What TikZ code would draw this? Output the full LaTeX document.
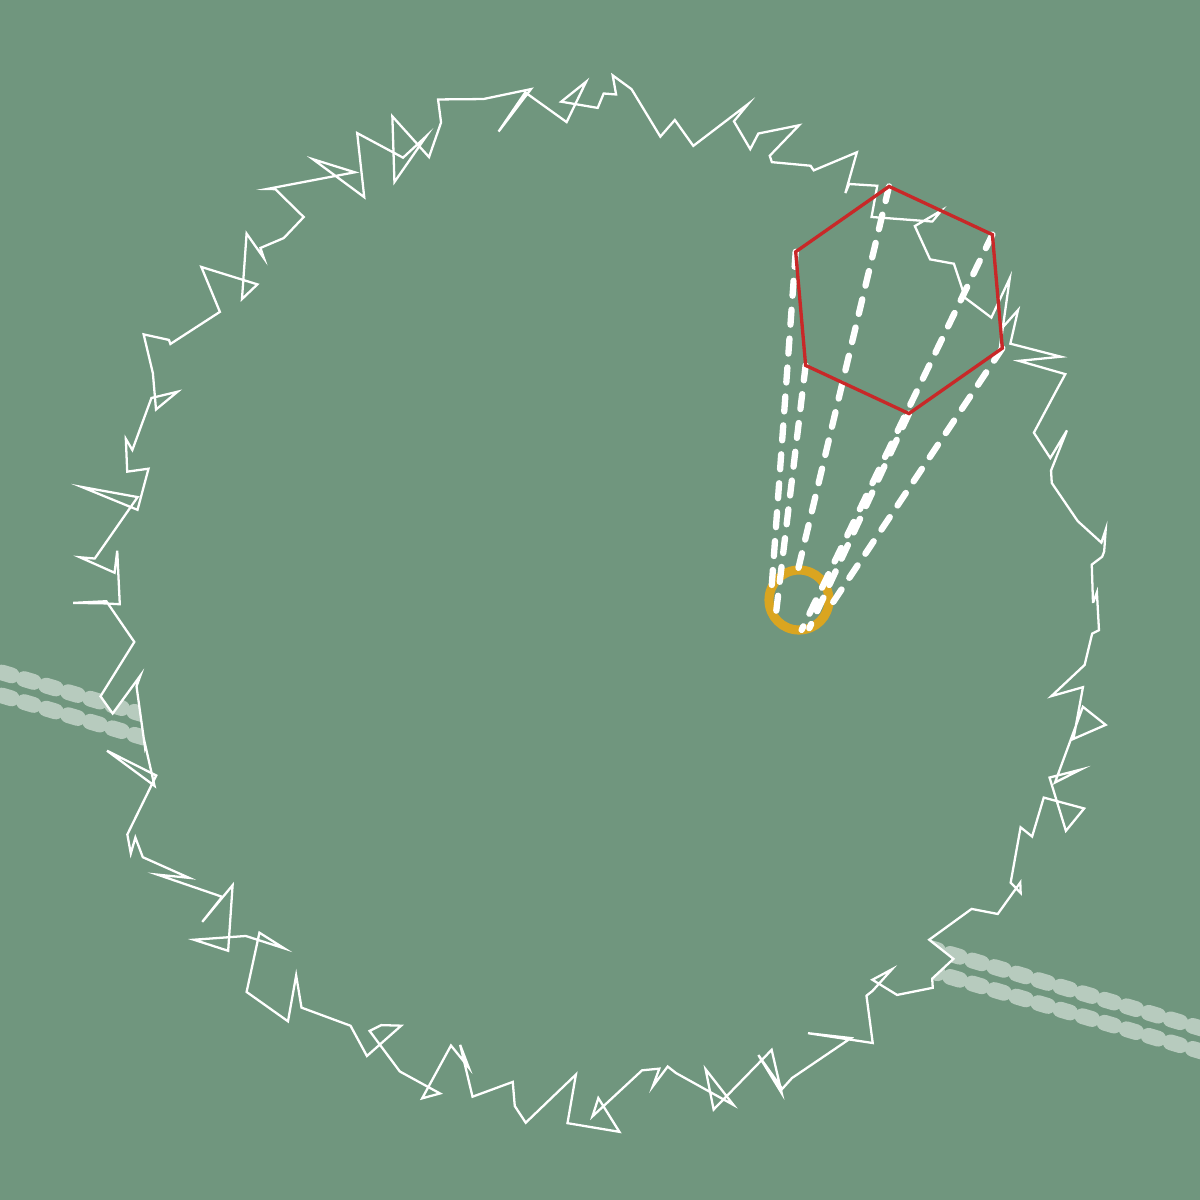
\documentclass[tikz,border=0pt]{standalone}
\usepackage{xcolor}
\usetikzlibrary{decorations.pathmorphing}
\definecolor{bg}{RGB}{112,150,126}
\definecolor{hexred}{RGB}{200,40,40}
\definecolor{gold}{RGB}{218,165,32}
\tikzset{
  rim/.style={decorate,decoration={random steps,segment length=1.6mm,amplitude=3.4mm},draw=white,line width=0.65pt,line join=miter,fill=bg},
  trail/.style={draw=white!50!bg,line width=4.5pt,line cap=round,dash pattern=on 1.0mm off 1.3mm},
  ray/.style={white,line width=1.8pt,line cap=round,dash pattern=on 1.5mm off 1.4mm},
  hexa/.style={hexred,line width=0.95pt,line join=miter},
  ring/.style={gold,line width=2.6pt}
}

\begin{document}
\begin{tikzpicture}[x=0.1mm,y=-0.1mm]
\fill[bg] (0,0) rectangle (1200,1200);
\useasboundingbox (0,0) rectangle (1200,1200);
\clip (0,0) rectangle (1200,1200);
% faint track behind the ring
\draw[trail] (-20,666) -- (1220,1034);
\draw[trail] (-20,689) -- (1220,1057);
% jagged boundary
\pgfmathsetseed{11}
\coordinate (c) at (598,603);
\path[rim] (c) circle (49.5mm);
% small target
\coordinate (o) at (799,600);
\draw[ring] (o) circle (3mm);
% hexagon corners and ray ends
\coordinate (hc) at (899,300);
\foreach \i/\a in {1/35,2/95,3/155,4/215,5/275,6/335}
  \path (hc) ++(\a:11.4mm) coordinate (h\i);
\foreach \i/\b in {1/275,2/92,3/156,4/218,5/290,6/336}
  \path (o) ++(\b:3mm) coordinate (e\i);
\foreach \i in {1,...,6}
  \draw[ray] (h\i) -- (e\i);
\draw[hexa] (h1) -- (h2) -- (h3) -- (h4) -- (h5) -- (h6) -- cycle;
\end{tikzpicture}
\end{document}
